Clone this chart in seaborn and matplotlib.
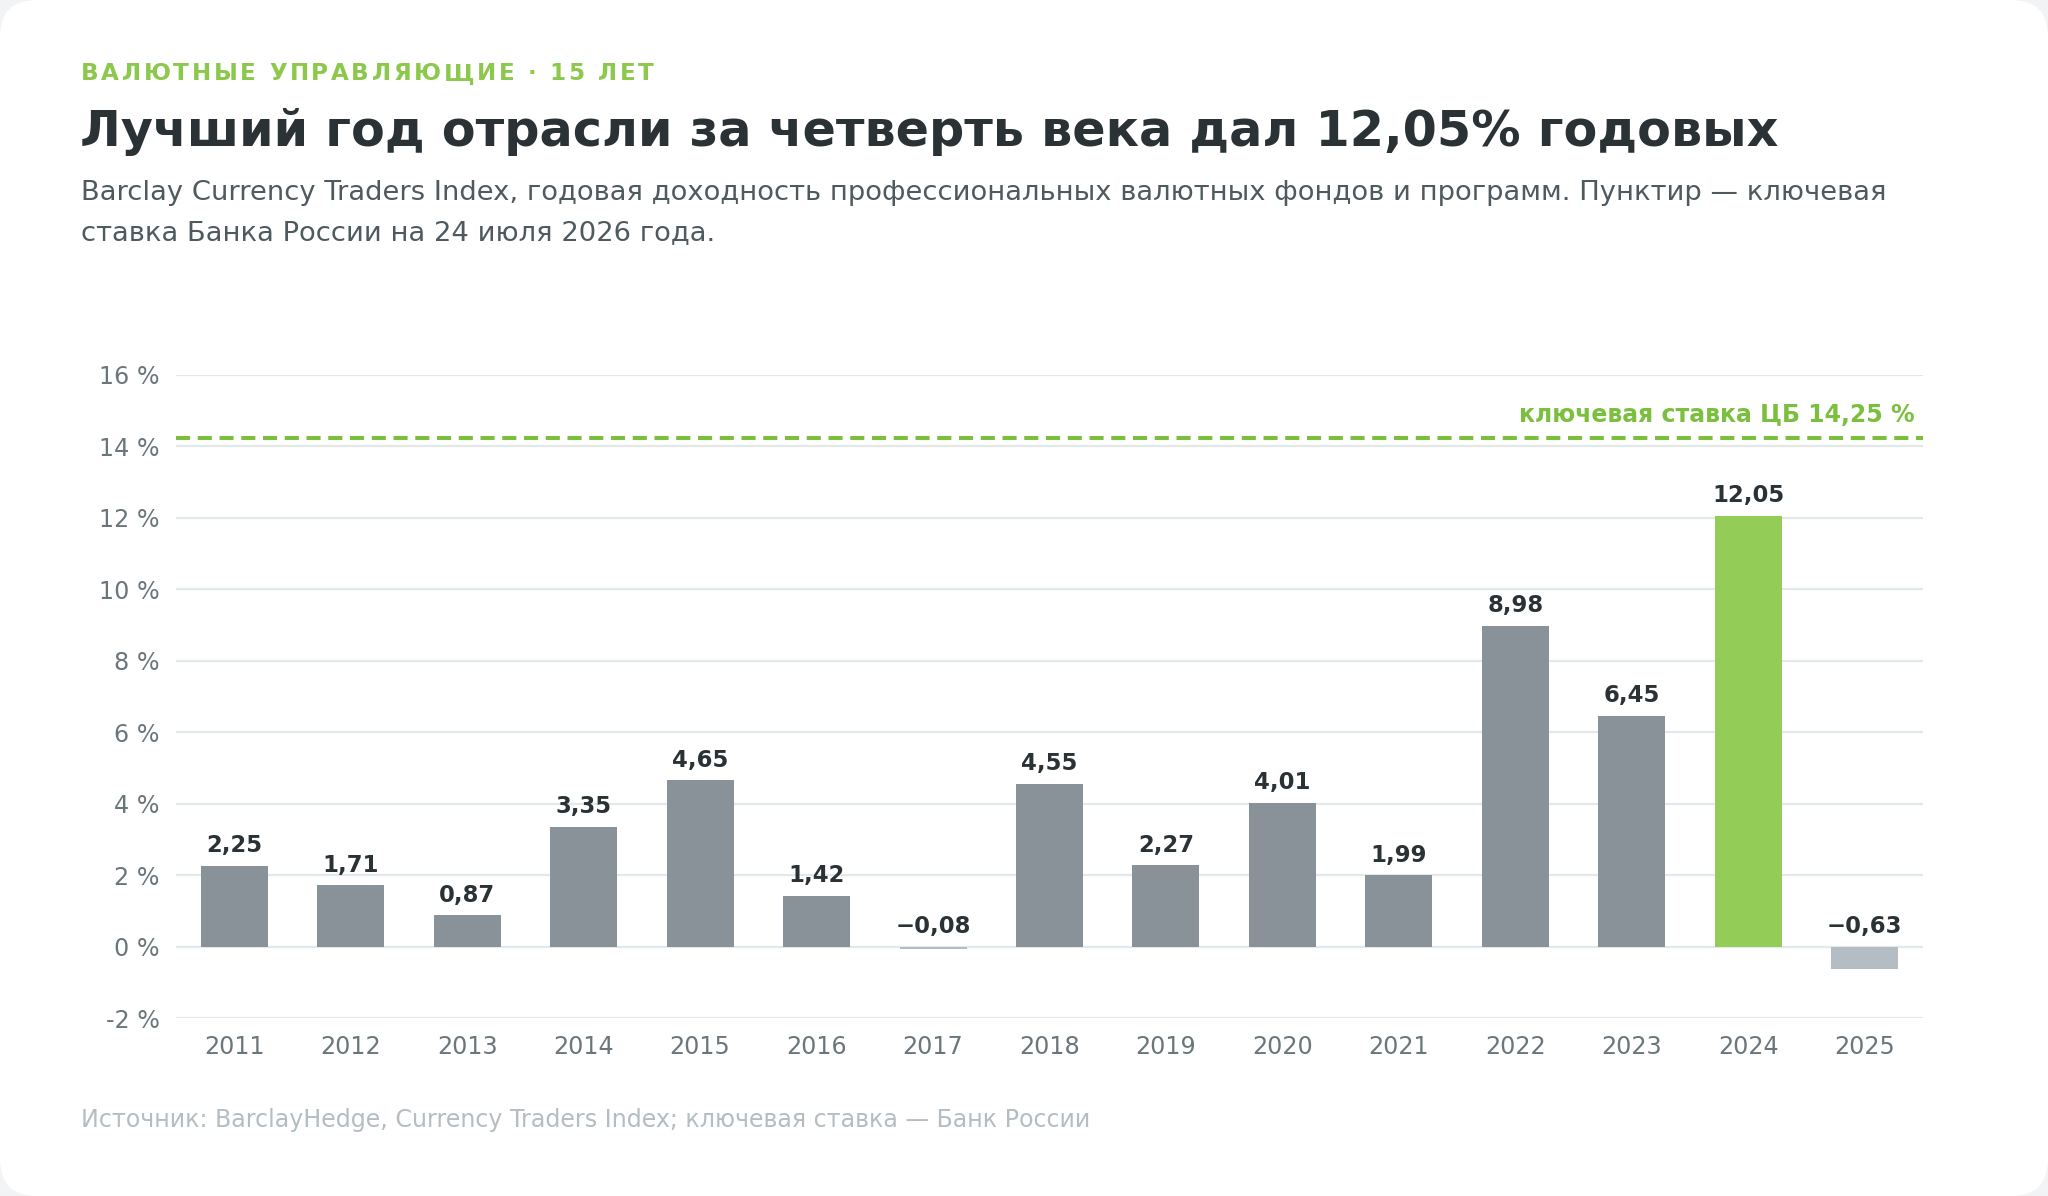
import matplotlib
matplotlib.use("Agg")
import matplotlib.pyplot as plt
import seaborn as sns
import pandas as pd
from matplotlib.patches import FancyBboxPatch

years = ["2011", "2012", "2013", "2014", "2015", "2016", "2017", "2018",
         "2019", "2020", "2021", "2022", "2023", "2024", "2025"]
returns = [2.25, 1.71, 0.87, 3.35, 4.65, 1.42, -0.08, 4.55,
           2.27, 4.01, 1.99, 8.98, 6.45, 12.05, -0.63]
key_rate = 14.25
y_ticks = [-2, 0, 2, 4, 6, 8, 10, 12, 14, 16]

kicker = "ВАЛЮТНЫЕ УПРАВЛЯЮЩИЕ · 15 ЛЕТ"
title = "Лучший год отрасли за четверть века дал 12,05% годовых"
subtitle1 = ("Barclay Currency Traders Index, годовая доходность профессиональных "
             "валютных фондов и программ. Пунктир — ключевая")
subtitle2 = "ставка Банка России на 24 июля 2026 года."
ref_label = "ключевая ставка ЦБ 14,25 %"
source = "Источник: BarclayHedge, Currency Traders Index; ключевая ставка — Банк России"

GRAY = "#8a9299"
LIGHT = "#b3bdc3"
GREEN = "#93cd58"
LINE_GREEN = "#7cbf3f"

sns.set_theme(style="white")
plt.rcParams["font.family"] = ["DejaVu Sans"]

W, H, DPI = 2048, 1196, 200
fig = plt.figure(figsize=(W / DPI, H / DPI), dpi=DPI)
fig.patch.set_facecolor("#f1f3f4")
card = FancyBboxPatch((0, 0), 1, 1, boxstyle="round,pad=0,rounding_size=0.018",
                      transform=fig.transFigure, facecolor="white", edgecolor="none",
                      mutation_aspect=W / H, zorder=-10)
fig.patches.append(card)

def px(x, y):
    return x / W, 1 - y / H

ax = fig.add_axes([176 / W, 1 - 1018 / H, (1923 - 176) / W, (1018 - 375) / H])
ax.set_facecolor("none")

df = pd.DataFrame({"year": years, "ret": returns})
colors = {}
for y, v in zip(years, returns):
    if v < 0:
        colors[y] = LIGHT
    elif v == max(returns):
        colors[y] = GREEN
    else:
        colors[y] = GRAY
sns.barplot(data=df, x="year", y="ret", hue="year", palette=colors, legend=False,
            width=0.575, saturation=1, ax=ax, zorder=3, linewidth=0)

ax.set_xlim(-0.5, len(years) - 0.5)
ax.set_ylim(-2, 16)
ax.set_yticks(y_ticks)
ax.set_yticklabels([f"{t} %" for t in y_ticks])
ax.grid(axis="y", color="#e3e8eb", linewidth=0.8, zorder=0)
ax.set_axisbelow(True)
for s in ax.spines.values():
    s.set_visible(False)
ax.tick_params(axis="both", length=0, labelsize=8.6, labelcolor="#6b767b")
ax.tick_params(axis="y", pad=5.8)
ax.tick_params(axis="x", pad=6.0)
ax.set_xlabel("")
ax.set_ylabel("")

for i, v in enumerate(returns):
    lab = f"{v:.2f}".replace(".", ",").replace("-", "\u2212")
    ax.annotate(lab, (i, max(v, 0)), xytext=(0, 3.2), textcoords="offset points",
                ha="center", va="bottom", fontsize=8.2, fontweight="bold",
                color="#2b3235", zorder=5)

ax.axhline(key_rate, color=LINE_GREEN, linewidth=1.45, dashes=(3.5, 1.9), zorder=4)
ax.annotate(ref_label, (1, key_rate), xycoords=("axes fraction", "data"),
            xytext=(-3, 3.8), textcoords="offset points", ha="right", va="bottom",
            fontsize=8.5, fontweight="bold", color=LINE_GREEN)

# kicker with letter spacing
fig.canvas.draw()
renderer = fig.canvas.get_renderer()
def spaced_text(x0, y0, s, spacing_px, **kw):
    x = x0
    for ch in s:
        t = fig.text(x / W, 1 - y0 / H, ch, va="center", ha="left", **kw)
        if ch == " ":
            tmp = fig.text(0, 0, "a a", **kw)
            tmp2 = fig.text(0, 0, "aa", **kw)
            w = (tmp.get_window_extent(renderer).width -
                 tmp2.get_window_extent(renderer).width)
            tmp.remove(); tmp2.remove()
        else:
            w = t.get_window_extent(renderer).width
        x += w + spacing_px

spaced_text(81, 74, kicker, 2.65, fontsize=8.3, fontweight="bold", color="#8cc84b")

fig.text(*px(80, 131.5), title, fontsize=17.75, fontweight="bold", color="#2b3235",
         ha="left", va="center")
fig.text(*px(81, 193), subtitle1, fontsize=9.85, color="#4f5a5f", ha="left", va="center")
fig.text(*px(81, 233), subtitle2, fontsize=9.85, color="#4f5a5f", ha="left", va="center")
fig.text(*px(81, 1119.5), source, fontsize=8.55, color="#b4bdc2", ha="left", va="center")

fig.savefig("out.png", dpi=DPI, facecolor=fig.get_facecolor())
